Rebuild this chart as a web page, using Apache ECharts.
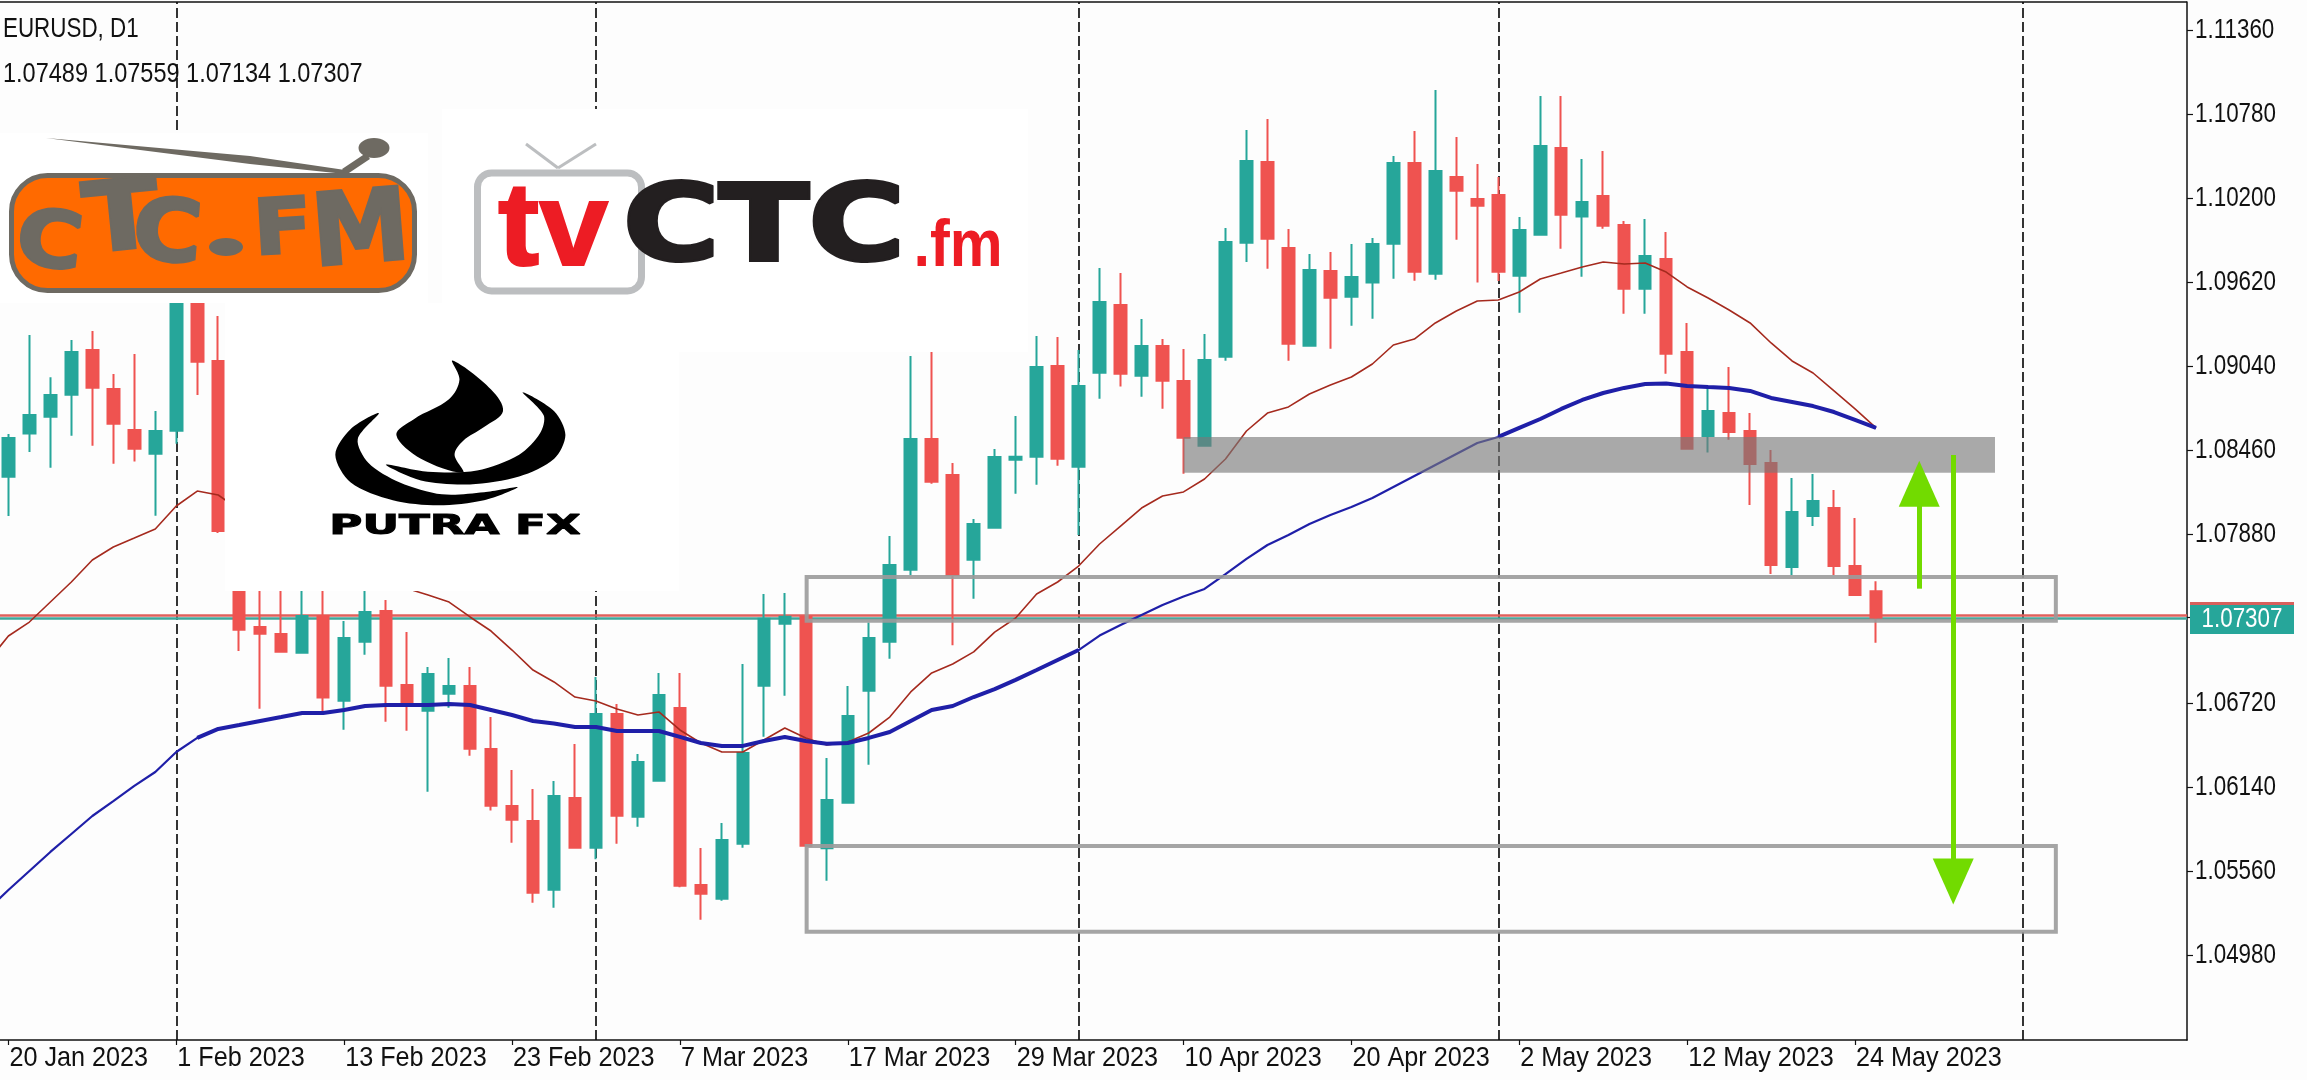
<!DOCTYPE html>
<html><head><meta charset="utf-8">
<style>html,body{margin:0;padding:0;background:#fdfdfd}#c{width:2307px;height:1080px}</style>
<script src="https://cdn.jsdelivr.net/npm/echarts@6/dist/echarts.min.js"></script>
</head><body><div id="c"></div>
<script>
const opens=[1.08279,1.08576,1.08693,1.08844,1.09153,1.08884,1.08601,1.08438,1.08596,1.09807,1.09077,1.07877,1.07243,1.07195,1.07066,1.07319,1.06735,1.07142,1.07353,1.06843,1.06666,1.06783,1.06836,1.06402,1.06009,1.05905,1.05432,1.06064,1.05721,1.06643,1.05935,1.06183,1.06684,1.05464,1.05370,1.05749,1.06838,1.07266,1.07314,1.05717,1.06032,1.06804,1.07142,1.07638,1.08539,1.08291,1.07707,1.07927,1.08396,1.08417,1.09042,1.08348,1.08996,1.09463,1.08975,1.09180,1.08939,1.08493,1.09106,1.09892,1.10449,1.09856,1.09182,1.09697,1.09520,1.09617,1.09885,1.10442,1.09679,1.10345,1.10194,1.10221,1.09665,1.09947,1.10545,1.10072,1.10214,1.10014,1.09575,1.09780,1.09139,1.08560,1.08718,1.08594,1.08374,1.07656,1.08008,1.08063,1.07663,1.07489];
const closes=[1.08546,1.08704,1.08842,1.09139,1.08893,1.08644,1.08472,1.08594,1.09842,1.09072,1.07905,1.07224,1.07197,1.07073,1.07319,1.06756,1.07167,1.07346,1.06838,1.06702,1.06919,1.06836,1.06404,1.06011,1.05914,1.05411,1.06078,1.05721,1.06643,1.05942,1.06312,1.06774,1.05459,1.05404,1.05774,1.06374,1.07300,1.07314,1.05735,1.06050,1.06629,1.07167,1.07670,1.08539,1.08245,1.07601,1.07953,1.08415,1.08417,1.09035,1.08403,1.08904,1.09483,1.08989,1.09180,1.08941,1.08548,1.09084,1.09897,1.10456,1.09920,1.09196,1.09704,1.09513,1.09656,1.09883,1.10442,1.09692,1.10387,1.10251,1.10147,1.09692,1.09980,1.10559,1.10085,1.10173,1.10009,1.09575,1.09801,1.09127,1.08472,1.08732,1.08587,1.08367,1.07670,1.08036,1.08111,1.07663,1.07464,1.07307];
const lows=[1.08008,1.08449,1.08341,1.08562,1.08493,1.08369,1.08383,1.08010,1.08507,1.08842,1.07891,1.07077,1.06680,1.07067,1.07060,1.06657,1.06535,1.07052,1.06590,1.06528,1.06107,1.06687,1.06356,1.05977,1.05756,1.05342,1.05308,1.05719,1.05641,1.05749,1.05866,1.06181,1.05448,1.05225,1.05356,1.05721,1.06487,1.06769,1.05733,1.05494,1.06025,1.06294,1.07024,1.07601,1.08231,1.07117,1.07438,1.07925,1.08162,1.08224,1.08355,1.07877,1.08817,1.08900,1.08831,1.08748,1.08300,1.08491,1.09079,1.09759,1.09713,1.09079,1.09180,1.09161,1.09320,1.09368,1.09644,1.09630,1.09637,1.09913,1.09617,1.09628,1.09410,1.09945,1.09851,1.09658,1.09989,1.09403,1.09403,1.08989,1.08465,1.08445,1.08534,1.08084,1.07608,1.07601,1.07939,1.07601,1.07460,1.07134];
const highs=[1.08573,1.09256,1.08964,1.09221,1.09284,1.08987,1.09125,1.08732,1.10083,1.09945,1.09387,1.07946,1.07705,1.07601,1.07567,1.07498,1.07284,1.07601,1.07429,1.07208,1.06967,1.07029,1.06967,1.06622,1.06257,1.06126,1.06181,1.06436,1.06898,1.06712,1.06367,1.06926,1.06926,1.05719,1.05892,1.06988,1.07470,1.07477,1.07319,1.06340,1.06836,1.07273,1.07870,1.09111,1.09187,1.08374,1.07987,1.08470,1.08698,1.09249,1.09242,1.09153,1.09718,1.09683,1.09366,1.09228,1.09159,1.09263,1.09994,1.10669,1.10745,1.09987,1.09814,1.09828,1.09883,1.09925,1.10490,1.10662,1.10945,1.10621,1.10435,1.10345,1.10069,1.10904,1.10904,1.10469,1.10524,1.10042,1.10056,1.09966,1.09339,1.08891,1.09035,1.08718,1.08463,1.08270,1.08298,1.08187,1.07994,1.07559];
const maFast=[1.07002,1.07181,1.07277,1.07415,1.07553,1.07705,1.07794,1.07856,1.07919,1.08077,1.08180,1.08153,1.08050,1.07946,1.07843,1.07774,1.07705,1.07650,1.07601,1.07546,1.07508,1.07464,1.07415,1.07312,1.07215,1.07084,1.06946,1.06864,1.06760,1.06733,1.06678,1.06636,1.06657,1.06533,1.06443,1.06381,1.06381,1.06464,1.06547,1.06478,1.06429,1.06450,1.06512,1.06622,1.06795,1.06926,1.06988,1.07071,1.07208,1.07305,1.07470,1.07553,1.07663,1.07815,1.07939,1.08063,1.08146,1.08174,1.08263,1.08401,1.08594,1.08718,1.08760,1.08849,1.08911,1.08966,1.09056,1.09187,1.09228,1.09339,1.09421,1.09490,1.09497,1.09552,1.09642,1.09683,1.09725,1.09759,1.09745,1.09752,1.09690,1.09587,1.09511,1.09428,1.09339,1.09201,1.09077,1.08994,1.08870,1.08746,1.08615];
const maSlow=[1.05292,1.05430,1.05561,1.05692,1.05816,1.05940,1.06043,1.06147,1.06243,1.06381,1.06478,1.06540,1.06567,1.06595,1.06622,1.06650,1.06650,1.06671,1.06698,1.06705,1.06705,1.06705,1.06712,1.06705,1.06671,1.06636,1.06595,1.06578,1.06554,1.06554,1.06526,1.06526,1.06526,1.06485,1.06443,1.06423,1.06423,1.06457,1.06485,1.06457,1.06438,1.06443,1.06478,1.06519,1.06595,1.06671,1.06698,1.06760,1.06815,1.06878,1.06946,1.07015,1.07084,1.07184,1.07257,1.07326,1.07395,1.07453,1.07505,1.07608,1.07712,1.07808,1.07877,1.07953,1.08015,1.08070,1.08132,1.08208,1.08284,1.08360,1.08436,1.08511,1.08553,1.08615,1.08677,1.08746,1.08808,1.08856,1.08891,1.08918,1.08922,1.08904,1.08897,1.08891,1.08870,1.08822,1.08794,1.08766,1.08725,1.08670,1.08615];
const dateTicks=[0,8,16,24,32,40,48,56,64,72,80,88];
const dateLabels=['20 Jan 2023','1 Feb 2023','13 Feb 2023','23 Feb 2023','7 Mar 2023','17 Mar 2023','29 Mar 2023','10 Apr 2023','20 Apr 2023','2 May 2023','12 May 2023','24 May 2023'];
const priceTicks=[1.0498,1.0556,1.0614,1.0672,1.0788,1.0846,1.0904,1.0962,1.102,1.1078,1.1136];
const lastPriceValue=1.07307;
const monthSeparators=[8,28,51,71,96];
const askLine=1.07324, bidLine=1.07301;
const supplyZone=[56,94.67,1.08553,1.08307];
const boxUpper=[38.04,97.57,1.07588,1.07286];
const boxLower=[38.04,97.57,1.05733,1.05142];
const arrowUp=[91.06,1.07507,1.08231];
const arrowDown=[92.68,1.08429,1.05489];
const title='EURUSD, D1';
const ohlcText='1.07489 1.07559 1.07134 1.07307';
const lastPrice='1.07307';

const FONT='"Liberation Sans",sans-serif';
const GREEN='#26a69a',RED='#ef5350',LIME='#72db00';
const XMIN=-0.4,XMAX=103.82;
const chart=echarts.init(document.getElementById('c'));
const candles=opens.map((o,i)=>[i,o,closes[i],lows[i],highs[i]]);
const pair=a=>a.map((v,i)=>[i-1,v]);
const slowThick=pair(maSlow).filter(p=>(p[0]>=9&&p[0]<=51)||p[0]>=71);
const slowThickGap=pair(maSlow).map(p=>((p[0]>=9&&p[0]<=51)||p[0]>=71)?p:[p[0],null]);
const zx=1.4255, zy=2.529;
const P=a=>a.map(p=>[p[0]/zx,p[1]/zy]);

function txt(s,x,y,font,fill,o){return Object.assign({type:'text',x,y,z:101,style:{text:s,font,fill,textAlign:'center',align:'center',textVerticalAlign:'middle',verticalAlign:'middle',stroke:(o&&o.stroke)||null,lineWidth:(o&&o.lw)||0}},o&&o.tf);}
function left(s,x,y,font,fill,sx,z){return {type:'text',x,y,z:z||102,scaleX:sx,style:{text:s,font,fill,textAlign:'left',align:'left',textVerticalAlign:'middle',verticalAlign:'middle'}};}
function rect(x,y,w,h,fill,z,extra){return {type:'rect',z:z||100,shape:Object.assign({x,y,width:w,height:h},extra&&extra.shape),style:Object.assign({fill},extra&&extra.style)};}
const ctcFont='bold 78px "DejaVu Sans"';
const GR='#6e6a62';
const S={stroke:GR,lw:3};
const logos=[
 {type:'line',z:1,shape:{x1:0,y1:2,x2:2187,y2:2},style:{stroke:'#111',lineWidth:1.5}},
 rect(0,133,428,170,'#fff'), rect(442,109,586,243,'#fff'), rect(225,303,454,288,'#fff'),
 {type:'polygon',z:101,shape:{points:[[46,138],[250,156],[345,170],[345,174],[250,164]]},style:{fill:GR}},
 {type:'line',z:101,shape:{x1:344,y1:172,x2:368,y2:156},style:{stroke:GR,lineWidth:7}},
 {type:'ellipse',z:101,shape:{cx:374,cy:148,rx:15.5,ry:10},style:{fill:GR}},
 rect(11.5,175.5,403,115,'#ff6a00',101,{shape:{r:36},style:{stroke:GR,lineWidth:5}}),
 txt('C',49,246,ctcFont,GR,{...S,tf:{scaleX:1.15,scaleY:1,rotation:-.12}}),
 txt('T',122,224,'bold 96px "DejaVu Sans"',GR,{...S,tf:{scaleX:1.15,scaleY:1,rotation:.1}}),
 txt('C',167,238,ctcFont,GR,{...S,tf:{scaleX:1.2,scaleY:1.1,rotation:-.08}}),
 {type:'ellipse',z:101,shape:{cx:226,cy:247,rx:17,ry:9},style:{fill:GR}},
 txt('F',283,233,ctcFont,GR,{...S,tf:{scaleX:1.1,scaleY:.98,rotation:.06}}),
 txt('M',361,236,'bold 98px "DejaVu Sans"',GR,{...S,tf:{scaleX:1.0,scaleY:1.02,rotation:.08}}),
 rect(477.5,173,164,118,'#fff',101,{shape:{r:14},style:{stroke:'#bcbec0',lineWidth:7}}),
 {type:'line',z:101,shape:{x1:558,y1:168,x2:526,y2:144},style:{stroke:'#bcbec0',lineWidth:3}},
 {type:'line',z:101,shape:{x1:558,y1:168,x2:596,y2:144},style:{stroke:'#bcbec0',lineWidth:3}},
 txt('tv',553,232,'bold 118px "Liberation Sans"','#ed1c24',{stroke:'#ed1c24',lw:2,tf:{scaleX:1.05}}),
 txt('CTC',764,233,'bold 100px "DejaVu Sans"','#231f20',{stroke:'#231f20',lw:4,tf:{scaleX:1.31,scaleY:1.05}}),
 txt('.fm',958,248,'bold 66px "Liberation Sans"','#ed1c24',{tf:{scaleX:.9}}),
 {type:'polygon',z:101,shape:{smooth:.35,points:P([[645,912],[700,985],[717,1040],[690,1080],[660,1115],[648,1150],[660,1195],[600,1160],[565,1100],[590,1060],[640,1010],[655,960]])},style:{fill:'#000'}},
 {type:'polygon',z:101,shape:{smooth:.3,points:P([[540,1045],[500,1085],[478,1150],[500,1220],[560,1265],[625,1278],[690,1265],[738,1232],[690,1245],[630,1250],[570,1220],[525,1170],[510,1110]])},style:{fill:'#000'}},
 {type:'polygon',z:101,shape:{smooth:.3,points:P([[745,992],[790,1040],[806,1100],[790,1160],[740,1205],[670,1225],[600,1215],[550,1175],[610,1193],[680,1190],[740,1150],[770,1095],[775,1050]])},style:{fill:'#000'}},
 txt('PUTRA FX',455,527,'bold 27px "DejaVu Sans"','#000',{stroke:'#000',lw:1,tf:{scaleX:1.67}}),
 left(title,3,29,'28px '+FONT,'#111',.8),
 left(ohlcText,3,74,'28px '+FONT,'#111',.84),
 rect(2190,602,104,32,GREEN,99),
 rect(2190,602,104,3,'#d8605c',99),
 txt(lastPrice,2242,619,'28px '+FONT,'#fff',{tf:{scaleX:.8}})
];
const zone=(z,style)=>[{coord:[z[0],z[2]],itemStyle:style},{coord:[z[1],z[3]]}];
const boxStyle={color:'rgba(0,0,0,0)',borderColor:'rgba(155,155,155,.9)',borderWidth:4};
const hline=(v,c,w)=>[{coord:[XMIN,v],lineStyle:{color:c,width:w,type:'solid'}},{coord:[XMAX,v]}];
chart.setOption({
 animation:false,
 backgroundColor:'#fdfdfd',
 grid:{left:0,right:120,top:2,bottom:40,show:true,borderWidth:0,borderColor:'transparent',backgroundColor:'#fdfdfd'},
 xAxis:{type:'value',min:XMIN,max:XMAX,splitLine:{show:false},
  axisLine:{show:true,onZero:false,lineStyle:{color:'#111',width:1.5}},
  axisTick:{show:true,customValues:dateTicks,length:5,lineStyle:{color:'#111',width:1.2}},
  axisLabel:{show:false}},
 yAxis:{type:'value',position:'right',min:1.043956,max:1.115516,splitLine:{show:false},
  axisLine:{show:true,onZero:false,lineStyle:{color:'#111',width:1.5}},
  axisTick:{show:true,customValues:priceTicks.concat([lastPriceValue]),length:6,lineStyle:{color:'#111',width:1.2}},
  axisLabel:{show:false}},
 series:[
  {type:'line',name:'levels',z:1,data:[],silent:true,
   markLine:{silent:true,symbol:'none',label:{show:false},animation:false,z:1,data:[
     ...monthSeparators.map(x=>({xAxis:x,lineStyle:{color:'#111',width:1.7,type:[10,4]}})),
     hline(bidLine,'#3fa79b',2.5),
     hline(askLine,'#e0605c',2.5)
   ]}},
  {type:'candlestick',name:'EURUSD',z:2,barWidth:12,data:candles,encode:{x:0,y:[1,2,3,4]},
   itemStyle:{color:GREEN,color0:RED,borderColor:GREEN,borderColor0:RED,borderWidth:2}},
  {type:'line',name:'MA fast',z:3,data:pair(maFast),showSymbol:false,symbol:'none',lineStyle:{color:'#a52a1e',width:1.6}},
  {type:'line',name:'MA slow',z:3,data:pair(maSlow),showSymbol:false,symbol:'none',lineStyle:{color:'#1f1fa8',width:2.2}},
  {type:'line',name:'MA slow heavy',z:3,data:slowThickGap,connectNulls:false,showSymbol:false,symbol:'none',lineStyle:{color:'#1f1fa8',width:4}},
  {type:'line',name:'zones',z:4,data:[],silent:true,
   markArea:{silent:true,z:4,data:[
     zone(supplyZone,{color:'rgba(120,120,120,.63)',borderWidth:0}),
     zone(boxUpper,boxStyle),zone(boxLower,boxStyle)
   ]}},
  {type:'line',name:'arrows',z:5,data:[],silent:true,
   markLine:{silent:true,z:5,symbol:['none','triangle'],symbolSize:[41,46],label:{show:false},lineStyle:{color:LIME,width:5,type:'solid',opacity:1},data:[
     [{coord:[arrowUp[0],arrowUp[1]]},{coord:[arrowUp[0],arrowUp[2]]}],
     [{coord:[arrowDown[0],arrowDown[1]]},{coord:[arrowDown[0],arrowDown[2]]}]
   ]}}
 ]
});
const axisX=dateTicks.map((d,i)=>left(dateLabels[i],chart.convertToPixel({xAxisIndex:0},d)+1,1058,'28px '+FONT,'#111',.9,60));
const axisY=priceTicks.map(v=>left(v.toFixed(5),2195,chart.convertToPixel({yAxisIndex:0},v),'28px '+FONT,'#111',.8,60));
chart.setOption({graphic:{elements:logos.concat(axisX,axisY)}});
</script></body></html>
